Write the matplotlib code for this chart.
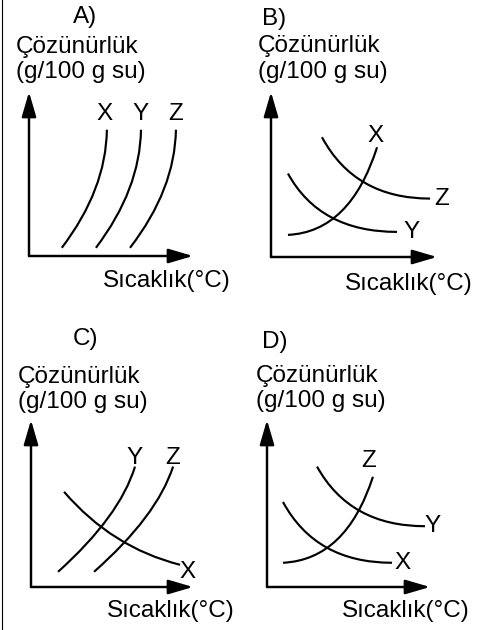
import numpy as np
import matplotlib
matplotlib.use('Agg')
import matplotlib.pyplot as plt
from matplotlib.path import Path
from matplotlib.patches import PathPatch
from matplotlib.lines import Line2D

plt.rcParams['font.family'] = ['Liberation Sans', 'DejaVu Sans']

# panel data: every curve = start, control, end (quadratic bezier), in 0-10 axis units
panel_names = ['A)', 'B)', 'C)', 'D)']
curve_names = {
    'A)': ['X', 'Y', 'Z'],
    'B)': ['X', 'Y', 'Z'],
    'C)': ['Y', 'Z', 'X'],
    'D)': ['Z', 'X', 'Y'],
}
curves = {
    'A)': [[(2.0, 0.5), (4.7, 4.05), (4.75, 7.7)],
           [(4.08, 0.5), (6.77, 4.05), (6.83, 7.7)],
           [(6.16, 0.5), (8.9, 4.05), (8.96, 7.7)]],
    'B)': [[(1.02, 1.34), (4.76, 1.52), (6.39, 6.65)],
           [(1.02, 5.06), (2.95, 1.52), (7.59, 1.52)],
           [(3.07, 7.26), (5.06, 3.54), (9.58, 3.54)]],
    'C)': [[(1.67, 0.91), (5.49, 4.24), (6.42, 7.21)],
           [(3.89, 0.91), (7.78, 4.24), (8.77, 7.21)],
           [(2.04, 5.70), (5.0, 2.36), (9.2, 1.33)]],
    'D)': [[(0.98, 1.45), (4.85, 1.64), (6.5, 6.6)],
           [(0.98, 5.09), (3.0, 1.45), (7.67, 1.45)],
           [(3.07, 7.21), (5.09, 3.64), (9.69, 3.64)]],
}
label_pos = {
    'A)': [(4.63, 8.65), (6.83, 8.65), (8.96, 8.65)],
    'B)': [(6.27, 7.32), (8.49, 1.52), (10.3, 3.54)],
    'C)': [(6.42, 7.7), (8.77, 7.7), (9.69, 0.91)],
    'D)': [(6.26, 7.52), (8.34, 1.45), (10.18, 3.64)],
}
ylabel_1 = 'Çözünürlük'
ylabel_2 = '(g/100 g su)'
xlabel = 'Sıcaklık(°C)'

W, H = 490, 630
fig = plt.figure(figsize=(W/100, H/100), dpi=100)

def fx(x): return x / W
def fy(y): return 1 - y / H

# axes boxes in pixels: origin x, origin y, arrow tip x, arrow tip y
boxes = {'A)': (29, 256, 193, 92), 'B)': (271, 257, 437, 92),
         'C)': (31, 587, 193, 420), 'D)': (267, 587, 430, 420)}
# text anchors in pixels (title x, title y, title ha, ylabel x, y1, y2, xlabel x, xlabel y)
texts = {'A)': (85, 23, 'center', 16, 53, 78, 103, 287),
         'B)': (262, 25, 'left', 258, 52, 78, 345, 290),
         'C)': (85, 345, 'center', 18, 383, 408, 107, 617),
         'D)': (262, 348, 'left', 256, 382, 407, 342, 617)}
fs = 17.5

for name in panel_names:
    ox, oy, tx, ty = boxes[name]
    ax = fig.add_axes([fx(ox), fy(oy), (tx - ox) / W, (oy - ty) / H])
    ax.set_xlim(0, 10); ax.set_ylim(0, 10)
    ax.axis('off')
    # axis arrows
    for end in [(0, 1), (1, 0)]:
        ax.annotate('', xy=end, xytext=(0, 0), xycoords='axes fraction',
                    arrowprops=dict(arrowstyle='-|>,head_length=0.75,head_width=0.22',
                                    mutation_scale=20, lw=1.75, color='black',
                                    shrinkA=0, shrinkB=0))
    for pts, lab, lp in zip(curves[name], curve_names[name], label_pos[name]):
        p = Path(pts, [Path.MOVETO, Path.CURVE3, Path.CURVE3])
        ax.add_patch(PathPatch(p, fill=False, lw=1.55, edgecolor='black', clip_on=False))
        ax.text(lp[0], lp[1], lab, fontsize=fs, ha='center', va='center', clip_on=False)

    t = texts[name]
    fig.text(fx(t[0]), fy(t[1]), name, fontsize=fs, ha=t[2], va='baseline')
    fig.text(fx(t[3]), fy(t[4]), ylabel_1, fontsize=fs, ha='left', va='baseline')
    fig.text(fx(t[3]), fy(t[5]), ylabel_2, fontsize=fs, ha='left', va='baseline')
    fig.text(fx(t[6]), fy(t[7]), xlabel, fontsize=fs, ha='left', va='baseline')

# thin border on the left
fig.add_artist(Line2D([fx(1.5), fx(1.5)], [0, 1], color='black', lw=0.8))

fig.savefig('out.png', dpi=100)
